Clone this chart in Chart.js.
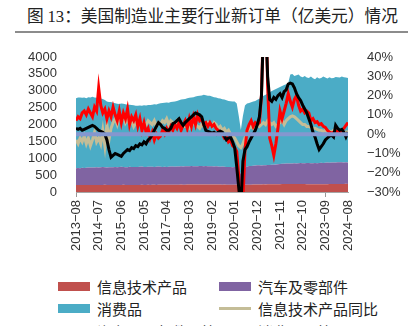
<!DOCTYPE html>
<html>
<head>
<meta charset="utf-8">
<script src="https://cdn.jsdelivr.net/npm/chart.js@4.4.1/dist/chart.umd.min.js"></script>
<style>
  html, body { margin: 0; padding: 0; background: #fff; overflow: hidden; }
  body { width: 420px; height: 326px; position: relative; font-family: "Noto Sans CJK SC", sans-serif; }
  #title { position: absolute; left: 27px; top: 4px; font-size: 16.7px; line-height: 22px; color: #222; white-space: nowrap; }
  #title .num { font-family: "Liberation Serif", serif; }
  #rule { position: absolute; left: 15px; top: 31px; width: 393px; height: 2px; background: #8c8c8c; }
  #chart { position: absolute; left: 0; top: 0; }
  .item { position: absolute; height: 22px; display: flex; align-items: center; font-size: 15px; color: #222; white-space: nowrap; }
  .mark { width: 32px; margin-right: 7px; }
</style>
</head>
<body>
<div id="title">图 <span class="num">13</span>：美国制造业主要行业新订单（亿美元）情况</div>
<div id="rule"></div>
<canvas id="chart" width="420" height="265"></canvas>
<div id="legend"></div>
<script>
// months 2013-08 .. 2024-08
const months = [];
for (let y = 2013, m = 8; y < 2024 || (y === 2024 && m <= 8); m++) {
  if (m > 12) { m = 1; y++; }
  months.push(y + "-" + String(m).padStart(2, "0"));
}

// left axis, 亿美元 (stacked areas)
const itProducts = [205, 208, 206, 210, 207,
  206, 209, 207, 210, 208, 211, 209, 207, 210, 212, 209, 208,
  210, 207, 209, 211, 208, 210, 212, 209, 207, 210, 211, 208,
  209, 211, 210, 212, 209, 211, 213, 210, 212, 214, 211, 213,
  212, 214, 215, 213, 216, 214, 217, 215, 218, 216, 219, 217,
  218, 220, 219, 221, 220, 222, 221, 223, 222, 224, 223, 222,
  221, 222, 220, 221, 219, 220, 218, 219, 217, 218, 216, 217,
  216, 214, 212, 208, 210, 213, 215, 217, 218, 220, 221, 222,
  223, 224, 226, 225, 227, 228, 229, 230, 231, 232, 233, 234,
  235, 236, 237, 238, 237, 239, 238, 237, 236, 235, 234, 233,
  232, 231, 230, 231, 230, 229, 230, 231, 232, 233, 234, 235,
  236, 237, 238, 239, 240, 239, 241, 240];

const autoParts = [500, 505, 500, 510, 505,
  510, 515, 520, 515, 520, 525, 520, 525, 530, 525, 520, 525,
  520, 525, 530, 525, 530, 535, 530, 525, 530, 535, 530, 530,
  535, 530, 535, 540, 535, 530, 535, 540, 535, 530, 535, 540,
  535, 530, 535, 530, 535, 540, 535, 530, 535, 540, 545, 540,
  545, 540, 545, 550, 545, 540, 545, 550, 545, 540, 545, 540,
  545, 540, 535, 540, 535, 530, 535, 530, 525, 520, 525, 520,
  525, 520, 450, 330, 420, 500, 540, 550, 555, 560, 565, 570,
  570, 560, 565, 570, 575, 570, 575, 580, 585, 590, 595, 600,
  600, 605, 610, 605, 610, 615, 610, 615, 620, 615, 620, 625,
  625, 620, 625, 630, 625, 630, 635, 630, 635, 640, 635, 640,
  640, 635, 640, 645, 640, 635, 640, 635];

const consumerGoods = [2070, 2085, 2095, 2075, 2085,
  2065, 2085, 2075, 2095, 2075, 2060, 2055, 2040, 2015, 1990, 1950, 1930,
  1940, 1910, 1890, 1880, 1870, 1880, 1870, 1865, 1850, 1840, 1840, 1830,
  1810, 1815, 1820, 1805, 1830, 1825, 1830, 1825, 1840, 1855, 1850, 1865,
  1880, 1890, 1895, 1910, 1895, 1910, 1925, 1940, 1945, 1960, 1975, 1990,
  1995, 2020, 2025, 2030, 2045, 2070, 2075, 2080, 2095, 2120, 2095, 2090,
  2084, 2068, 2055, 2039, 2026, 2020, 1997, 1991, 1978, 1962, 1949, 1943,
  1939, 1886, 1588, 1302, 1620, 1847, 1865, 1873, 1887, 1900, 1914, 1938,
  1967, 2016, 2059, 2085, 2118, 2152, 2186, 2210, 2234, 2258, 2282, 2306,
  2335, 2349, 2383, 2637, 2653, 2586, 2612, 2628, 2564, 2550, 2586, 2532,
  2523, 2569, 2515, 2479, 2545, 2501, 2515, 2559, 2523, 2487, 2531, 2495,
  2504, 2538, 2522, 2506, 2540, 2526, 2509, 2505];

// right axis, % yoy
const itYoy = [-3, -5, -2, -4, -1,
  -5, -2, -6, -3, 1, -4, -2, -5, 2, -6, 5, -3,
  3, 6, 8, 5, 9, 7, 10, 6, 8, 5, 7, 4,
  6, 5, 7, 4, 6, 5, 7, 6, 5, 7, 4, 6,
  5, 7, 6, 8, 5, 7, 6, 5, 7, 6, 5, 4,
  4, 5, 3, 4, 6, 5, 4, 3, 5, 4, 5, 6,
  5, 4, 6, 5, 3, 4, 2, 3, 1, 2, 0, -1,
  -2, -4, -6, -7, -5, -2, 1, 3, 4, 3, 4, 5,
  4, 5, 6, 5, 7, 6, 5, 6, 4, 5, 6, 7,
  5, 7, 8, 9, 9.5, 9, 8, 7, 6, 5, 5, 4,
  4, 3.5, 3, 3, 2.5, 2, 2, 1.5, 2, 1, 1.5, 1,
  2, 1.5, 1, 2, 1.5, 0.5, 1, 1.5];

const autoYoy = [7, 9, 8, 11, 12,
  10, 13, 11, 9, 14, 12, 24, 15, 11, 13, 8, 12,
  9, 14, 10, 7, 12, 6, 11, 8, 13, 5, 9, 7,
  10, 4, 8, 2, 6, 1, 3, -2, 1, -3, 0, -2,
  -1, 2, 0, 3, 1, 4, 2, 5, 3, 6, 2, 5,
  7, 3, 8, 4, 9, 5, 10, 7, 8, 5, 6, 4,
  6, 4, 5, 3, 2, 1, 0, -2, -1, -4, -3, -6,
  -7, -9, -22, -55, -35, -8, 2, 5, 7, 4, 6, 5,
  6, 20, 60, 75, 25, -2, -6, -11, -5, 3, 12, 8,
  12, 16, 21, 17, 14, 18, 20, 15, 12, 13, 11, 12,
  11, 7, 8, 6, 6.5, 5, 5.5, 4, 3.5, 2, 1, 0.5,
  1, 0, 2, 1, 2, 3, 4.5, 6];

const consumerYoy = [3, 2.5, 3, 2, 2.5,
  3, 3.5, 4, 4.5, 4, 3, 2, 1.5, 1, 0, -3, -8,
  -12, -11, -10, -10.5, -11, -11.5, -10, -9, -8, -8.5, -7, -7.5,
  -6, -6.5, -5, -5.5, -4, -5, -3, -2, -0.5, 2, 4, 6,
  5, 3.5, 3, 2, 2, 3, 5.5, 6, 7, 8, 6, 4.5,
  6, 7, 8, 9, 10, 11, 10.5, 10, 9, 5, 2, 1.5,
  1, 0.5, 1, 0, 1, 1.5, 1, -1, -3, -2, -1.5, -4,
  -7, -17, -28, -38, -14, -8, -6.5, -4, -2, 0, 2, 5,
  9, 20, 55, 60, 30, 18, 17, 19, 18, 20, 21, 19,
  22, 23, 26, 26.5, 26, 24, 21, 19, 17.5, 15, 13, 11,
  8, 5, 1, -1.5, -5, -8, -6.5, -5, -3, -2, -1, -0.5,
  -1.5, 4.6, 3, 2, 2.5, 1, -1.5, 1];

const tickFont = { family: "Liberation Sans, Arial, sans-serif", size: 13 };

// zero line of the right axis, drawn over everything
const zeroLine = {
  id: "zeroLine",
  afterDatasetsDraw(chart) {
    const { ctx, chartArea } = chart;
    const y = chart.scales.y2.getPixelForValue(0);
    ctx.save();
    ctx.strokeStyle = "#8497cf";
    ctx.lineWidth = 4;
    ctx.beginPath();
    ctx.moveTo(chartArea.left, y);
    ctx.lineTo(chartArea.right, y);
    ctx.stroke();
    ctx.restore();
  }
};

function lineSet(label, data, color) {
  return { label, data, yAxisID: "y2", borderColor: color, backgroundColor: color,
    borderWidth: 3, pointRadius: 0, fill: false, clip: 0 };
}
function areaSet(label, data, color, fill) {
  return { label, data, yAxisID: "y", borderColor: color, backgroundColor: color,
    borderWidth: 0, pointRadius: 0, fill, clip: 0 };
}

const chart = new Chart(document.getElementById("chart").getContext("2d"), {
  type: "line",
  data: {
    labels: months,
    datasets: [
      lineSet("消费品同比", consumerYoy, "#000000"),
      lineSet("汽车及零部件同比", autoYoy, "#ff0000"),
      lineSet("信息技术产品同比", itYoy, "#c4bd97"),
      areaSet("信息技术产品", itProducts, "#c0504d", "origin"),
      areaSet("汽车及零部件", autoParts, "#8064a2", "-1"),
      areaSet("消费品", consumerGoods, "#4bacc6", "-1")
    ]
  },
  options: {
    responsive: false,
    animation: false,
    layout: { padding: { top: 57, left: 0, right: 0, bottom: 0 } },
    plugins: { legend: { display: false }, tooltip: { enabled: false } },
    elements: { line: { tension: 0 }, point: { radius: 0 } },
    scales: {
      x: {
        offset: false,
        grid: {
          display: true, drawOnChartArea: false, drawTicks: true, tickLength: 5,
          color: ctx => (ctx.index % 11 === 0 ? "#999" : "rgba(0,0,0,0)")
        },
        border: { display: true, color: "#a6a6a6" },
        ticks: {
          autoSkip: false, minRotation: 90, maxRotation: 90, padding: 3,
          color: "#333", font: tickFont,
          callback: (v, i) => (i % 11 === 0 ? months[i].replace("-", "−") : null)
        },
        afterFit: s => { s.height = 73; }
      },
      y: {
        position: "left", stacked: true, min: 0, max: 4000,
        grid: { display: false }, border: { display: false },
        ticks: { stepSize: 500, autoSkip: false, padding: 11, color: "#333", font: tickFont,
          callback: v => String(v) },
        afterFit: s => { s.width = 76; }
      },
      y2: {
        position: "right", min: -30, max: 40,
        grid: { display: false }, border: { display: false },
        ticks: {
          stepSize: 10, autoSkip: false, padding: 11, color: "#333", font: tickFont,
          callback: v => (v < 0 ? "−" + (-v) : v) + "%"
        },
        afterFit: s => { s.width = 72; }
      }
    }
  },
  plugins: [zeroLine]
});

// two-column legend below the chart
const legendOrder = [
  ["信息技术产品", "box"], ["汽车及零部件", "box"],
  ["消费品", "box"], ["信息技术产品同比", "line"],
  ["汽车及零部件同比", "line"], ["消费品同比", "line"]
];
const legendEl = document.getElementById("legend");
legendOrder.forEach(([label, kind], i) => {
  const ds = chart.data.datasets.find(d => d.label === label);
  const item = document.createElement("div");
  item.className = "item";
  item.style.left = (i % 2 === 0 ? 58 : 219) + "px";
  item.style.top = (275 + Math.floor(i / 2) * 22.5) + "px";
  const mark = document.createElement("span");
  mark.className = "mark";
  mark.style.height = kind === "box" ? "9px" : "3px";
  mark.style.background = ds.borderColor;
  item.appendChild(mark);
  item.appendChild(document.createTextNode(label));
  legendEl.appendChild(item);
});
</script>
</body>
</html>
